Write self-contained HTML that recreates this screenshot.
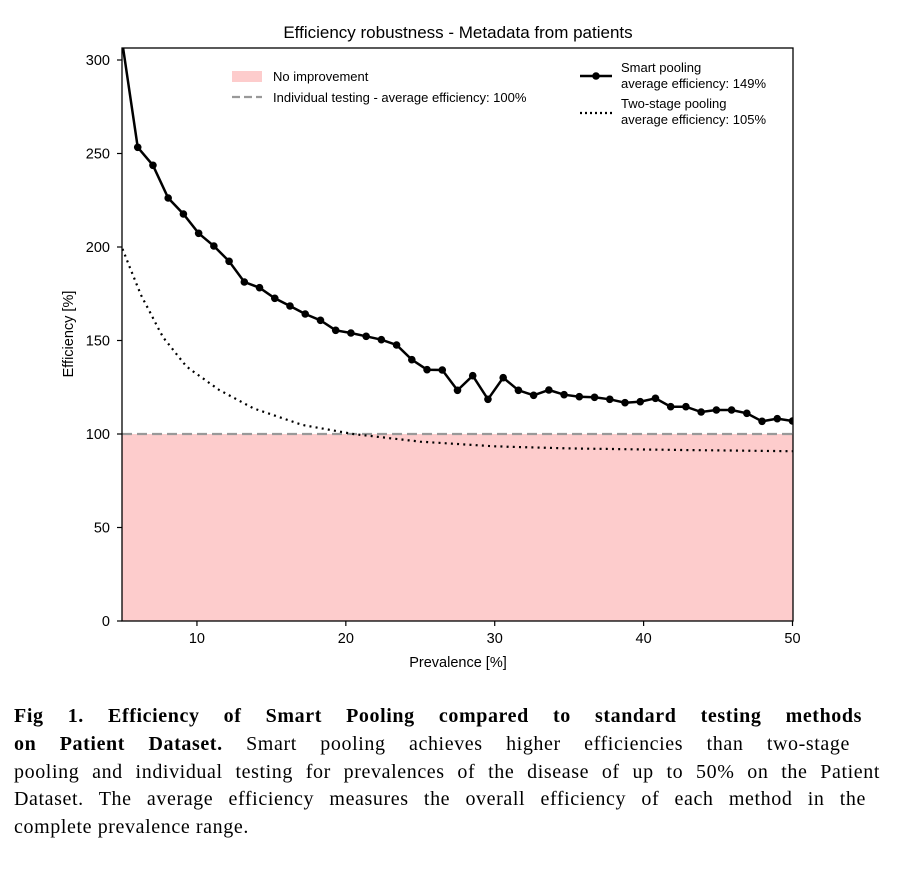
<!DOCTYPE html>
<html><head><meta charset="utf-8"><style>
body{margin:0;background:#fff;width:916px;height:876px;overflow:hidden;position:relative}
svg{position:absolute;left:0;top:0}
.cap{position:absolute;left:14px;top:703px;font-family:"Liberation Serif",serif;font-size:20px;line-height:27.8px;color:#000;letter-spacing:0.6px}
.cap span{display:block;text-align:justify;text-align-last:justify;white-space:nowrap}
.cap span.l{text-align:left;text-align-last:left}
</style></head><body>
<svg width="916" height="700" id="s" font-family="Liberation Sans, sans-serif">
<defs><clipPath id="c"><rect x="122" y="48" width="671" height="573"/></clipPath></defs>
<rect x="122" y="434" width="671" height="187" fill="#fdcccc"/>
<line x1="122" y1="434" x2="793" y2="434" stroke="#999" stroke-width="2.2" stroke-dasharray="10,5"/>
<g id="g" clip-path="url(#c)"></g>
<rect x="122" y="48" width="671" height="573" fill="none" stroke="#000" stroke-width="1.3"/>
<text x="458" y="38" font-size="17" text-anchor="middle">Efficiency robustness - Metadata from patients</text>
<text x="458" y="667" font-size="14.5" text-anchor="middle">Prevalence [%]</text>
<text transform="translate(73,334) rotate(-90)" font-size="14.5" text-anchor="middle">Efficiency [%]</text>
<g font-size="14.5" text-anchor="end" id="yt"></g>
<g font-size="14.5" text-anchor="middle" id="xt"></g>
<rect x="232" y="71" width="30" height="11" fill="#fdcccc"/>
<text x="273" y="81" font-size="13">No improvement</text>
<line x1="232" y1="97" x2="262" y2="97" stroke="#999" stroke-width="2.2" stroke-dasharray="8,4"/>
<text x="273" y="102" font-size="13">Individual testing - average efficiency: 100%</text>
<line x1="580" y1="76" x2="612" y2="76" stroke="#000" stroke-width="2.5"/>
<circle cx="596" cy="76" r="3.8"/>
<text x="621" y="72" font-size="13">Smart pooling</text>
<text x="621" y="88" font-size="13">average efficiency: 149%</text>
<line x1="580" y1="113" x2="612" y2="113" stroke="#000" stroke-width="2.2" stroke-dasharray="2,3"/>
<text x="621" y="108" font-size="13">Two-stage pooling</text>
<text x="621" y="124" font-size="13">average efficiency: 105%</text>
</svg>
<div class="cap">
<span style="width:848px"><b>Fig 1. Efficiency of Smart Pooling compared to standard testing methods</b></span>
<span style="width:836px"><b>on Patient Dataset.</b> Smart pooling achieves higher efficiencies than two-stage</span>
<span style="width:866px">pooling and individual testing for prevalences of the disease of up to 50% on the Patient</span>
<span style="width:852px">Dataset. The average efficiency measures the overall efficiency of each method in the</span>
<span class="l">complete prevalence range.</span>
</div>
<script>
var NS="http://www.w3.org/2000/svg";
function el(t,a,p){var e=document.createElementNS(NS,t);for(var k in a)e.setAttribute(k,a[k]);p.appendChild(e);return e;}
var s=document.getElementById('s'),g=document.getElementById('g');
function X(p){return 122.5+(p-5)*670/45;}
function Y(v){return 621-v*1.87;}
var kp=[[5,199],[6.2,175],[7.7,152],[9.3,136],[11.5,123.5],[13.8,113.7],[17.1,104.8],[20.5,100],[25,95.9],[30,93.4],[35,92.3],[42,91.5],[50,90.8]];
function f(p){for(var i=0;i<kp.length-1;i++){if(p<=kp[i+1][0]){var a=kp[i],b=kp[i+1],t=(p-a[0])/(b[0]-a[0]);return a[1]+t*(b[1]-a[1]);}}return kp[kp.length-1][1];}
var d="";for(var p=5;p<=50.001;p+=0.25){d+=(p==5?"M":"L")+X(p).toFixed(1)+","+Y(f(p)).toFixed(1);}
el('path',{d:d,fill:"none",stroke:"#000","stroke-width":2.2,"stroke-dasharray":"2,4.2"},g);
var ys=[44,147.3,165.3,198,214,233.3,246,261.3,282,287.7,298.3,306,314,320.3,330.3,333,336.3,339.7,345,359.7,369.7,370,390.3,375.7,399.3,377.7,390.3,395.3,390,394.7,396.7,397.3,399.3,402.7,401.7,398.3,406.7,406.7,412,410,410,413.3,421.3,418.7,421];
var pts=ys.map(function(y,i){return [122.5+i*670/44,y];});
el('polyline',{points:pts.map(function(q){return q.join(",")}).join(" "),fill:"none",stroke:"#000","stroke-width":2.5},g);
pts.forEach(function(q){el('circle',{cx:q[0],cy:q[1],r:3.8},g);});
var yt=document.getElementById('yt');
for(var v=0;v<=300;v+=50){var y=Y(v);el('line',{x1:117,x2:122,y1:y,y2:y,stroke:"#000","stroke-width":1.2},s);el('text',{x:110,y:y+5},yt).textContent=v;}
var xt=document.getElementById('xt');
for(var p=10;p<=50;p+=10){var x=X(p);el('line',{x1:x,x2:x,y1:621,y2:626,stroke:"#000","stroke-width":1.2},s);el('text',{x:x,y:643},xt).textContent=p;}
</script>
</body></html>
